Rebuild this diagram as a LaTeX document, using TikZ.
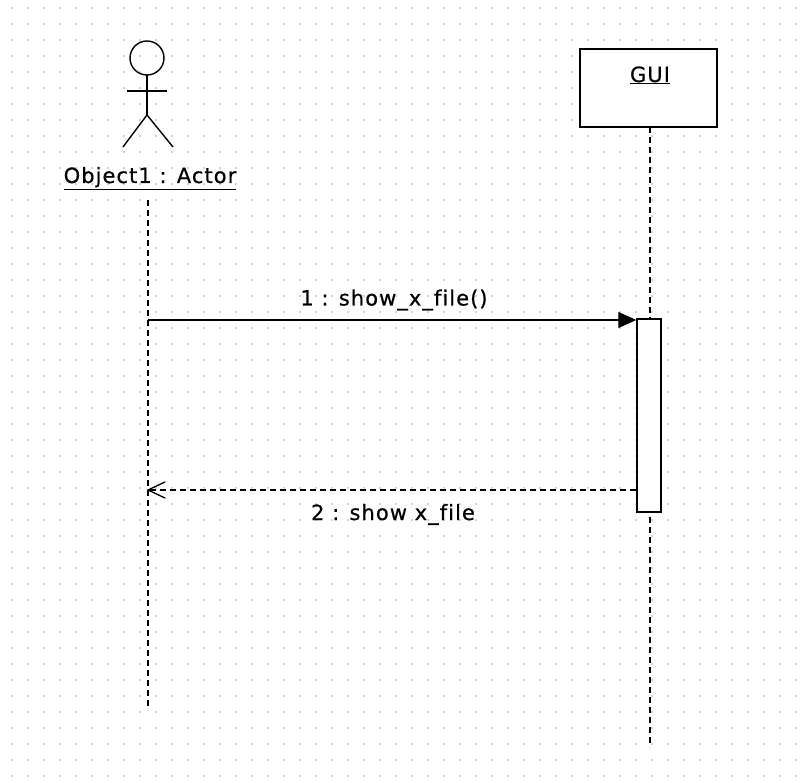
\documentclass[tikz,border=0pt]{standalone}
\usepackage{fontspec}
\setmainfont{DejaVu Sans}[LetterSpace=5,Ligatures=NoCommon,FakeBold=0.6]
\usetikzlibrary{arrows.meta}
\begin{document}
\begin{tikzpicture}[x=1pt,y=-1pt,
  lbl/.style={font=\fontsize{21}{24}\selectfont, inner sep=0pt},
  life/.style={line width=1.2pt, dash pattern=on 6pt off 4pt},
  obj/.style={draw, line width=1.5pt, fill=white},
  msg/.style={line width=1.3pt},
  gdot/.style={fill=black!22}]
\useasboundingbox (0,0) rectangle (806,783);
\fill[white] (0,0) rectangle (806,783);
% grid dots
\foreach \i in {0,...,49} {
  \foreach \j in {0,...,48} {
    \fill[gdot] ({12+16*\i},{8+16*\j}) circle (1.1pt);
  }
}
% actor
\draw[line width=1.4pt] (147,58) circle (17);
\draw[line width=1.4pt] (147,75) -- (147,115);
\draw[line width=1.4pt] (127,91) -- (167,91);
\draw[line width=1.4pt] (123,147) -- (147,115) -- (173,147);
\node[lbl, anchor=base] (actor) at (150,183) {\underline{Object1 : Actor}};
\coordinate (aTop) at (148,200);
\coordinate (aBot) at (148,710);
\draw[life] (aTop) -- (aBot);
% GUI
\node[obj, minimum width=137pt, minimum height=78pt, inner sep=0pt] (gui) at (648.5,88) {};
\node[lbl, anchor=base] (guilbl) at (650,82) {\underline{GUI}};
\coordinate (gBot) at (650,747);
\draw[life] (650,127) -- (gBot);
% activation
\node[draw, line width=1.4pt, fill=white, minimum width=24pt, minimum height=193pt, inner sep=0pt] (act) at (649,415.5) {};
% messages
\coordinate (m1s) at (148,320);
\draw[msg, -{Triangle[length=18pt,width=16pt]}] (m1s) -- (act.north west |- m1s);
\node[lbl, anchor=base] (m1) at (394,305.5) {1 : show\_x\_file()};
\coordinate (m2e) at (148,490);
\draw[msg, dash pattern=on 6pt off 4pt] (act.west |- m2e) -- (m2e);
\draw[msg, line cap=round] (165,482) -- (m2e) -- (165,498);
\node[lbl, anchor=base] (m2) at (393,520) {2 : show x\_file};
\end{tikzpicture}
\end{document}
